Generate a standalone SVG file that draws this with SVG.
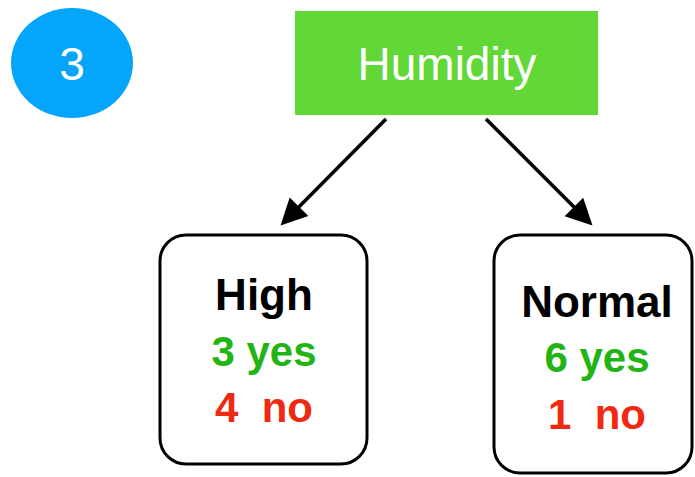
<svg xmlns="http://www.w3.org/2000/svg" width="695" height="477" viewBox="0 0 695 477">
<style>
text{font-family:"Liberation Sans",Arial,sans-serif;text-anchor:middle}
.w{fill:#ffffff;font-size:46px}
.b{fill:#000000;font-size:44px;font-weight:bold}
.g{fill:#22b414;font-size:42px;font-weight:bold}
.r{fill:#f02a12;font-size:42px;font-weight:bold;white-space:pre}
.box{fill:#ffffff;stroke:#000000;stroke-width:3}
.edge{stroke:#000000;stroke-width:3.5;fill:none}
</style>
<defs>
<marker id="ah" markerWidth="6" markerHeight="6" refX="5" refY="3" orient="auto" markerUnits="strokeWidth" overflow="visible">
<path d="M0,0 L6,3 L0,6 Z" fill="#000000" transform="translate(-1.5,-0.75) scale(1.25)"/>
</marker>
</defs>
<rect width="695" height="477" fill="#ffffff"/>
<g id="badge">
<ellipse cx="72" cy="63" rx="61" ry="55" fill="#05a5fb"/>
<text class="w" x="72" y="80">3</text>
</g>
<g id="humidity">
<rect x="295" y="11" width="303" height="104" fill="#62d838"/>
<text class="w" x="447" y="80">Humidity</text>
</g>
<g id="connectors">
<line class="edge" x1="386" y1="119" x2="283" y2="223" marker-end="url(#ah)"/>
<line class="edge" x1="486" y1="119" x2="590" y2="223" marker-end="url(#ah)"/>
</g>
<g id="high">
<rect class="box" x="160" y="235" width="207" height="229" rx="26"/>
<text class="b" x="264" y="310">High</text>
<text class="g" x="264" y="366">3 yes</text>
<text class="r" x="264" y="422">4  no</text>
</g>
<g id="normal">
<rect class="box" x="494" y="235" width="198" height="238" rx="26"/>
<text class="b" x="597" y="317">Normal</text>
<text class="g" x="597" y="372">6 yes</text>
<text class="r" x="597" y="429">1  no</text>
</g>
</svg>
